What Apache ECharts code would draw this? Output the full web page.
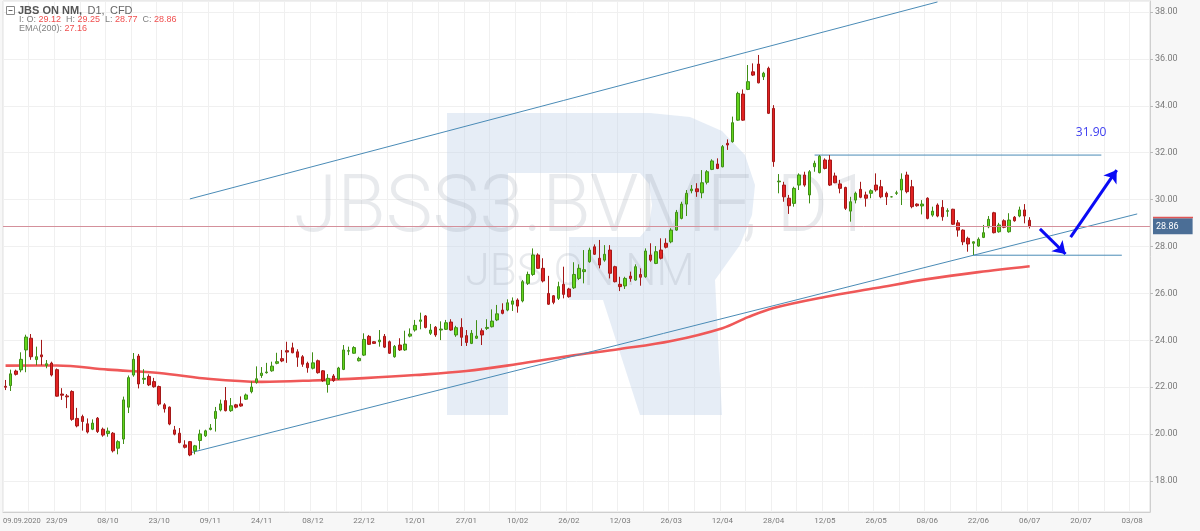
<!DOCTYPE html>
<html><head><meta charset="utf-8">
<script src="https://cdn.jsdelivr.net/npm/echarts@6/dist/echarts.min.js"></script>
<style>html,body{margin:0;padding:0;background:#f7f7f7}#c{width:1200px;height:531px}</style>
</head><body><div id="c"></div>
<script>
// x-axis tick labels (one every 10 bars)
const tickLabels = ['09.09.2020','23/09','08/10','23/10','09/11','24/11','08/12','22/12','12/01','27/01','10/02','26/02','12/03','26/03','12/04','28/04','12/05','26/05','08/06','22/06','06/07','20/07','03/08'];
const slotCount = 224;
const categories = Array.from({length: slotCount}, (_, i) => String(i));

const open = [22.04,22.07,22.69,22.74,23.59,24.09,23.18,23.38,22.93,23.03,
22.75,21.71,21.63,21.82,20.67,20.75,20.44,20.21,20.68,20.21,
20.03,20.04,19.40,19.79,21.15,22.52,23.33,22.34,22.46,22.24,
22.03,21.25,21.15,20.18,20.04,19.54,19.68,19.29,19.73,19.93,
20.20,20.67,21.03,21.43,21.00,21.25,21.29,21.49,21.81,22.21,
22.50,22.62,22.70,23.02,23.22,23.56,23.68,23.51,23.30,23.02,
22.81,23.13,22.70,22.12,22.48,22.35,22.76,23.54,23.45,23.13,
23.37,24.17,23.94,23.94,24.17,23.94,23.30,23.80,23.59,24.18,
24.44,24.81,25.04,24.30,24.56,24.44,24.47,24.78,24.23,24.55,
24.20,23.87,24.09,24.41,24.51,24.58,24.87,25.29,25.29,25.54,
25.72,25.68,26.43,26.81,27.64,27.07,26.00,25.90,25.79,26.39,
26.19,26.24,26.64,26.93,27.35,27.99,27.50,27.42,27.85,27.14,
26.39,26.32,26.74,26.57,26.81,26.71,27.64,27.28,27.85,28.14,
28.20,28.70,29.20,29.81,30.38,30.46,30.29,30.74,31.29,31.52,
31.40,32.40,32.47,33.39,34.50,34.70,35.45,35.78,35.24,35.60,
33.89,30.76,30.62,30.06,29.84,30.62,31.05,30.20,31.40,31.15,
31.69,31.69,31.01,30.67,30.52,29.51,29.98,30.44,30.20,30.27,
30.62,30.55,30.27,30.12,30.27,30.41,31.05,30.55,29.81,29.73,
30.06,29.34,29.77,29.67,29.50,29.59,29.01,28.70,28.35,28.14,
28.02,28.39,28.84,29.44,28.63,29.10,28.63,29.25,29.30,29.56,
29.12];
const close = [22.00,22.57,22.55,23.19,24.14,23.30,23.30,23.30,23.00,22.52,
21.62,21.66,21.59,20.63,20.35,20.54,20.09,20.47,20.11,19.96,
20.13,19.29,19.68,21.46,22.41,23.19,22.14,22.38,22.10,22.02,
21.28,21.08,20.43,20.00,19.64,19.44,19.11,19.50,20.01,20.14,
20.26,20.97,21.29,21.00,21.21,21.15,21.20,21.67,22.01,22.36,
22.60,22.65,22.90,23.09,23.12,23.50,23.47,23.28,22.98,22.83,
23.04,22.62,22.28,22.38,22.28,22.82,23.59,23.56,23.69,23.23,
24.04,23.83,23.87,24.01,23.71,23.45,23.74,23.59,23.84,24.27,
24.64,24.87,24.55,24.44,24.23,24.48,24.75,24.44,24.54,24.13,
23.91,24.30,24.18,24.23,24.55,24.82,25.13,25.15,25.60,25.68,
25.46,26.50,26.81,27.64,27.07,26.53,25.54,25.62,26.29,25.96,
25.86,26.81,27.07,27.01,27.85,27.67,27.21,27.67,26.86,26.50,
26.29,26.64,26.64,27.14,26.69,27.81,27.42,27.78,27.50,27.97,
28.70,29.46,29.81,30.27,30.45,30.34,30.72,31.19,31.65,31.33,
32.26,32.33,33.28,34.53,33.39,35.03,35.31,34.98,35.39,33.68,
31.62,30.79,30.12,29.74,30.48,31.05,30.62,31.19,31.55,31.85,
31.33,30.62,30.72,30.48,29.63,29.91,30.27,30.10,30.06,30.38,
30.41,30.12,30.12,30.12,30.29,30.87,30.34,29.70,29.74,29.81,
29.20,29.51,29.30,29.27,29.53,28.95,28.70,28.20,28.11,28.20,
28.31,28.59,29.16,28.59,28.92,28.82,29.13,29.10,29.56,29.30,
28.86];
const low = [21.88,21.84,22.50,22.64,22.64,23.17,22.94,22.94,22.81,22.46,
21.60,21.46,21.11,20.57,20.29,20.15,20.03,20.17,20.05,19.89,
19.89,19.22,19.14,19.58,20.90,22.45,21.95,22.14,22.05,21.98,
21.21,20.92,20.38,19.95,19.61,19.39,19.06,19.14,19.35,19.88,
20.16,20.11,20.97,20.97,20.95,21.10,21.17,21.46,21.74,22.15,
22.40,22.58,22.66,22.98,23.07,23.04,23.45,22.87,22.87,22.62,
22.76,22.58,22.23,21.77,22.23,22.31,22.73,23.37,23.43,23.10,
23.33,23.80,23.85,23.73,23.67,23.42,23.26,23.55,23.55,24.13,
24.37,24.47,24.51,24.23,24.15,24.01,24.44,24.41,24.15,23.76,
23.76,23.84,24.06,23.80,24.44,24.55,24.82,25.11,25.24,25.25,
25.18,25.62,26.36,26.75,27.04,26.47,25.51,25.54,25.72,25.79,
25.82,26.19,26.57,26.43,27.31,27.64,27.07,27.35,26.64,26.47,
26.10,26.19,26.50,26.54,26.33,26.67,27.35,27.25,27.45,27.92,
28.14,28.67,29.16,29.30,30.27,30.12,30.06,30.65,31.26,31.30,
31.38,32.12,32.43,33.36,33.36,34.67,35.27,34.96,35.10,33.65,
31.40,30.27,29.91,29.39,29.70,30.41,30.55,29.84,31.19,31.12,
31.29,30.58,30.70,30.27,29.56,29.06,29.84,30.06,29.70,30.06,
30.34,30.06,29.77,30.10,30.20,29.77,30.27,29.63,29.70,29.37,
29.16,29.27,29.25,29.10,29.27,28.92,28.42,28.06,27.78,27.64,
27.99,28.36,28.78,28.56,28.59,28.78,28.59,29.06,29.25,28.99,
28.77];
const high = [22.31,22.75,22.75,23.49,24.24,24.27,23.73,24.02,23.16,23.09,
22.80,21.96,21.71,21.87,21.12,20.83,20.67,20.63,20.73,20.28,
20.28,20.09,19.74,21.60,22.50,23.46,23.42,22.77,22.55,22.40,
22.07,21.32,21.18,20.35,20.26,19.74,19.71,19.54,20.19,20.19,
20.43,21.16,21.47,22.01,21.54,21.29,21.61,21.73,22.25,22.89,
22.86,23.04,23.09,23.47,23.59,23.94,23.90,23.62,23.37,23.09,
23.49,23.18,22.73,22.56,22.56,22.87,23.80,23.73,23.75,23.30,
24.30,24.23,23.96,24.44,24.27,23.99,23.80,24.09,24.41,24.51,
24.87,25.18,25.08,24.70,24.61,24.81,24.87,24.90,24.62,24.94,
24.44,24.44,24.86,24.51,24.90,25.32,25.51,25.58,25.75,25.83,
25.79,26.57,26.93,27.92,27.71,27.50,26.75,25.93,26.50,27.14,
26.24,27.33,27.24,27.85,27.95,28.09,28.28,28.06,28.06,27.18,
26.71,26.71,26.93,27.24,27.07,27.92,28.14,28.02,28.35,28.35,
28.78,29.56,29.91,30.41,30.62,30.70,31.26,31.26,31.72,31.76,
32.33,32.57,33.54,34.60,34.70,35.74,35.81,36.17,35.45,35.67,
34.03,31.09,30.76,30.20,30.55,31.12,31.19,31.26,31.66,31.90,
31.76,31.90,31.15,30.84,30.55,30.12,30.34,30.76,30.34,30.44,
31.12,30.84,30.34,30.14,30.38,31.12,31.19,30.84,29.84,29.98,
30.10,29.70,29.84,29.98,29.63,29.61,29.13,28.73,28.42,28.22,
28.39,28.92,29.30,29.48,29.01,29.16,29.42,29.30,29.70,29.81,
29.25];
// EMA(200) read at sample bars [barIndex, value]
const emaPoints = [[0,22.92],[10,22.93],[20,22.75],[30,22.61],[40,22.35],[50,22.23],[60,22.29],[70,22.39],[80,22.52],[90,22.69],[100,22.99],[110,23.33],[120,23.63],[130,23.97],[140,24.52],[145,24.99],[150,25.38],[160,25.85],[170,26.23],[180,26.61],[190,26.91],[200,27.16]];
// drawn annotations [barIndex, price]
const channelUpper = [[36,30.03],[182,38.43]];
const channelLower = [[36,19.20],[221,29.39]];
const resistance = [[158,31.90],[214,31.90]];
const support = [[189,27.63],[218,27.63]];
const arrowDown = [[202,28.75],[207,27.68]];
const arrowUp = [[208,28.40],[217,31.26]];
const targetText = {bar: 212, price: 32.84, text: '31.90'};

const candles = open.map((o, i) => [o, close[i], low[i], high[i]]);
const last = candles.length - 1;
const emaLast = emaPoints[emaPoints.length - 1][1];

const chart = echarts.init(document.getElementById('c'), null, {renderer: 'canvas'});
const blue = '#4a8bb6';
function annotationLine(pts) {
  return {type: 'line', data: pts, symbol: 'none', silent: true, z: 3,
    lineStyle: {color: blue, width: 1}, animation: false};
}
const f = v => v.toFixed(2);
const logoFill = 'rgba(196,212,234,0.42)';
const logoBowl = [[508,113],[650,113],[690,117],[722,131],[745,155],[755,185],[752,215],[740,245],[715,280],[722,415],[640,415],[603,300],[569,300],[569,237],[640,237],[649,226],[652,205],[649,184],[640,173],[508,173]];
const xLabelStyle = {fontSize: 8, color: '#7a7a7a', margin: 5, fontFamily: 'Roboto'};
chart.setOption({
  animation: false,
  backgroundColor: '#f7f7f7',
  grid: {left: 1, right: 50, top: 1, bottom: 19, show: true, backgroundColor: '#ffffff', borderColor: '#dcdcdc', borderWidth: 1},
  xAxis: [{
    type: 'category', data: categories, boundaryGap: true,
    axisLine: {show: true, lineStyle: {color: '#cfcfcf'}},
    axisTick: {show: false},
    axisLabel: Object.assign({
      interval: (i) => i % 10 === 0,
      formatter: (v, i) => (i === 0 ? '' : (tickLabels[i / 10] || ''))
    }, xLabelStyle),
    splitLine: {show: true, interval: (i) => i % 5 === 0, lineStyle: {color: '#f0f0f0', width: 1}}
  }, {
    // overlay axis carrying only the first (left-aligned) date label
    type: 'category', data: categories, boundaryGap: false, position: 'bottom',
    axisLine: {show: false}, axisTick: {show: false}, splitLine: {show: false},
    axisLabel: Object.assign({}, xLabelStyle, {
      fontSize: 7.5,
      interval: (i) => i === 0,
      formatter: (v, i) => (i === 0 ? tickLabels[0] : ''),
      showMinLabel: true, alignMinLabel: 'left'
    })
  }],
  yAxis: {
    type: 'value', position: 'right', min: 16.68, max: 38.47, splitNumber: 10, scale: true,
    axisLine: {show: true, lineStyle: {color: '#cfcfcf'}},
    axisTick: {show: true, length: 3, lineStyle: {color: '#bbbbbb'}},
    axisLabel: {fontSize: 9, color: '#7a7a7a', margin: 5, fontFamily: 'Roboto', formatter: f, showMinLabel: false, showMaxLabel: false},
    splitLine: {show: true, lineStyle: {color: '#f0f0f0', width: 1}}
  },
  graphic: [
    {type: 'rect', silent: true, z: 1, shape: {x: 447, y: 113, width: 61, height: 302}, style: {fill: logoFill}},
    {type: 'polygon', silent: true, z: 1, shape: {points: logoBowl}, style: {fill: logoFill}},
    {type: 'text', silent: true, z: 1, style: {text: 'JBSS3.BVMF, D1', x: 583, y: 211, align: 'center', verticalAlign: 'middle', fontSize: 79, fontFamily: 'Roboto', fontWeight: 300, fill: 'rgba(140,150,165,0.20)'}},
    {type: 'text', silent: true, z: 1, style: {text: 'JBS ON NM', x: 580, y: 274, align: 'center', verticalAlign: 'middle', fontSize: 44, fontFamily: 'Roboto', fontWeight: 300, fill: 'rgba(140,150,165,0.20)'}},
    {type: 'line', silent: true, z: 20, shape: {x1: 1153, y1: 217.5, x2: 1193, y2: 217.5}, style: {stroke: '#e05555', lineWidth: 1.5}},
    {type: 'rect', silent: true, z: 10, shape: {x: 6.5, y: 6.5, width: 8, height: 8}, style: {fill: '#fff', stroke: '#8a8a8a', lineWidth: 1}},
    {type: 'line', silent: true, z: 10, shape: {x1: 8.5, y1: 10.5, x2: 12.5, y2: 10.5}, style: {stroke: '#666', lineWidth: 1}},
    {type: 'text', silent: true, z: 10, style: {x: 18, y: 10.5, verticalAlign: 'middle', fontFamily: 'Liberation Sans',
      text: '{t|JBS ON NM,} {s|D1,} {s|CFD}',
      rich: {t: {fontSize: 11, fontWeight: 'bold', fill: '#555', fontFamily: 'Liberation Sans'}, s: {fontSize: 11, fill: '#666', fontFamily: 'Liberation Sans', padding: [0, 0, 0, 2]}}}},
    {type: 'text', silent: true, z: 10, style: {x: 19, y: 19.5, verticalAlign: 'middle', fontFamily: 'Liberation Sans',
      text: '{l|I: O: }{v|' + f(open[last]) + '}{l|  H: }{v|' + f(high[last]) + '}{l|  L: }{v|' + f(low[last]) + '}{l|  C: }{v|' + f(close[last]) + '}',
      rich: {l: {fontSize: 9, fill: '#808080', fontFamily: 'Liberation Sans'}, v: {fontSize: 9, fill: '#f05050', fontFamily: 'Liberation Sans'}}}},
    {type: 'text', silent: true, z: 10, style: {x: 19, y: 29, verticalAlign: 'middle', fontFamily: 'Liberation Sans',
      text: '{l|EMA(200): }{v|' + f(emaLast) + '}',
      rich: {l: {fontSize: 9, fill: '#808080', fontFamily: 'Liberation Sans'}, v: {fontSize: 9, fill: '#f05050', fontFamily: 'Liberation Sans'}}}}
  ],
  series: [
    {
      type: 'candlestick', data: candles, barWidth: 3, z: 4,
      itemStyle: {color: '#62d41c', color0: '#e22222', borderColor: '#3f8e16', borderColor0: '#a41818', borderWidth: 1},
      markLine: {
        silent: true, symbol: ['none', 'none'], animation: false,
        data: [{yAxis: close[last]}],
        lineStyle: {color: '#d4909b', width: 1, type: 'solid'},
        label: {show: true, position: 'end', formatter: (p) => f(p.value), color: '#fff', backgroundColor: '#4b6e96',
          padding: [4, 14, 3, 3], fontSize: 9, fontFamily: 'Roboto', distance: 3}
      },
      markPoint: {
        silent: true, symbol: 'circle', symbolSize: 1, itemStyle: {color: 'rgba(0,0,0,0)'},
        data: [{coord: [targetText.bar, targetText.price], value: targetText.text}],
        label: {show: true, position: 'inside', formatter: targetText.text, color: '#3e3ef0', fontSize: 12, fontFamily: 'Open Sans'}
      }
    },
    {
      type: 'line', data: emaPoints, symbol: 'none', smooth: 0.35, silent: true, z: 3,
      lineStyle: {color: '#ef5858', width: 2.6},
      markLine: {
        silent: true, symbol: ['none', 'arrow'], symbolSize: 12, animation: false,
        lineStyle: {color: '#0a0af5', width: 3, type: 'solid'},
        label: {show: false},
        data: [
          [{coord: arrowDown[0]}, {coord: arrowDown[1]}],
          [{coord: arrowUp[0]}, {coord: arrowUp[1]}]
        ]
      }
    },
    annotationLine(channelUpper),
    annotationLine(channelLower),
    annotationLine(resistance),
    annotationLine(support)
  ]
});
</script></body></html>
